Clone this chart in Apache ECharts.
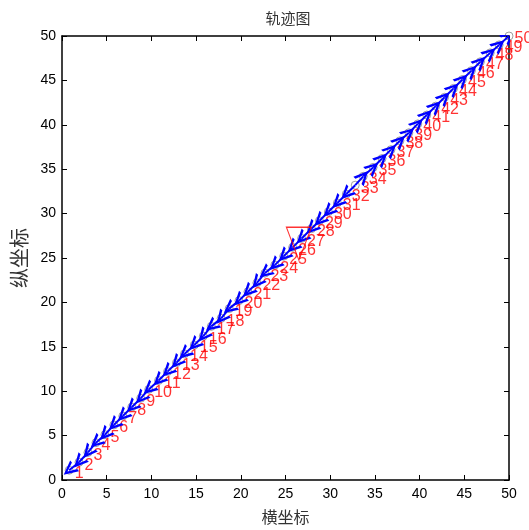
<!DOCTYPE html>
<html>
<head>
<meta charset="utf-8">
<script src="https://cdn.jsdelivr.net/npm/echarts@6/dist/echarts.min.js"></script>
<style>
  html, body { margin: 0; padding: 0; background: #fff; }
  #chart { width: 529px; height: 530px; }
</style>
</head>
<body>
<div id="chart"></div>
<script>
// track points
const pointX = [0.8,1.9,2.9,3.8,4.8,5.8,6.8,7.8,8.8,9.7,10.8,11.8,12.8,13.7,14.8,15.8,16.7,17.8,18.7,19.8,
                20.8,21.8,22.7,23.8,24.8,25.8,26.8,27.9,28.8,29.8,30.8,31.8,32.8,33.7,34.8,35.8,36.8,37.8,38.8,39.8,
                40.8,41.8,42.8,43.8,44.8,45.8,46.8,47.9,48.9,50];
const pointY = [1.1,2.0,3.1,4.2,5.1,6.2,7.2,8.2,9.2,10.2,11.2,12.2,13.2,14.2,15.2,16.2,17.3,18.2,19.3,20.2,
                21.2,22.2,23.3,24.2,25.2,26.2,27.2,28.3,29.2,30.2,31.2,32.2,33.2,34.2,35.2,36.2,37.2,38.2,39.1,40.1,
                41.1,42.1,43.1,44.1,45.1,46.1,47.1,48.1,49.0,50];
const pointLabels = pointX.map((v, i) => String(i + 1));
// arrows point back toward the start up to this segment, forward after it
const turnIndex = 32;
// the big triangle marker
const triX = [26.5];
const triY = [26.6];

const chart = echarts.init(document.getElementById('chart'), null, {renderer: 'canvas'});

const arrowData = [];
for (let i = 0; i < pointX.length - 1; i++) {
    const a = [pointX[i], pointY[i]];
    const b = [pointX[i + 1], pointY[i + 1]];
    arrowData.push({coords: i < turnIndex ? [b, a] : [a, b]});
}

const axisCommon = {
    type: 'value', min: 0, max: 50, interval: 5,
    axisLine: {show: true, onZero: false, lineStyle: {color: '#000', width: 1.5}},
    axisTick: {show: true, inside: true, length: 5, lineStyle: {color: '#000'}},
    splitLine: {show: false}
};

const option = {
    animation: false,
    title: {
        text: '轨迹图', left: 283, top: 6, textAlign: 'center',
        textStyle: {fontFamily: 'Noto Sans CJK SC', fontSize: 15, fontWeight: 'normal', color: '#333'}
    },
    grid: {left: 62, right: 20, top: 36, bottom: 46},
    xAxis: [
        Object.assign({}, axisCommon, {
            position: 'bottom',
            name: '横坐标', nameLocation: 'middle', nameGap: 29,
            nameTextStyle: {fontFamily: 'Noto Sans CJK SC', fontSize: 16, color: '#333'},
            axisLabel: {color: '#000', fontFamily: 'Liberation Sans', fontSize: 14, margin: 7}
        }),
        Object.assign({}, axisCommon, {position: 'top', axisLabel: {show: false}})
    ],
    yAxis: [
        Object.assign({}, axisCommon, {
            position: 'left',
            name: '纵坐标', nameLocation: 'middle', nameGap: 26, nameRotate: 90,
            nameTextStyle: {fontFamily: 'Noto Sans CJK SC', fontSize: 20, color: '#333'},
            axisLabel: {color: '#000', fontFamily: 'Liberation Sans', fontSize: 14, margin: 6}
        }),
        Object.assign({}, axisCommon, {position: 'right', axisLabel: {show: false}})
    ],
    series: [
        {
            type: 'scatter',
            data: pointX.map((x, i) => [x, pointY[i], pointLabels[i]]),
            symbol: 'circle', symbolSize: 8,
            itemStyle: {color: 'rgba(0,0,0,0)', borderColor: '#888', borderWidth: 1},
            label: {
                show: true, position: 'right', distance: 1, offset: [0, 3],
                formatter: p => p.value[2],
                color: '#ff0000', fontFamily: 'Liberation Sans', fontSize: 16
            },
            z: 2
        },
        {
            type: 'lines',
            coordinateSystem: 'cartesian2d',
            data: arrowData,
            symbol: ['none', 'path://M5,0 L10,13 L8,13 L5,4.5 L2,13 L0,13 Z'],
            symbolSize: [13, 14],
            lineStyle: {color: '#0000ff', width: 2, opacity: 1},
            z: 4
        },
        {
            type: 'scatter',
            data: triX.map((x, i) => [x, triY[i]]),
            symbol: 'path://M0,0 L100,0 L50,132 Z', symbolSize: [25, 33], symbolKeepAspect: false,
            itemStyle: {color: 'rgba(0,0,0,0)', borderColor: '#ff0000', borderWidth: 1.2},
            z: 5
        }
    ]
};
chart.setOption(option);
</script>
</body>
</html>
